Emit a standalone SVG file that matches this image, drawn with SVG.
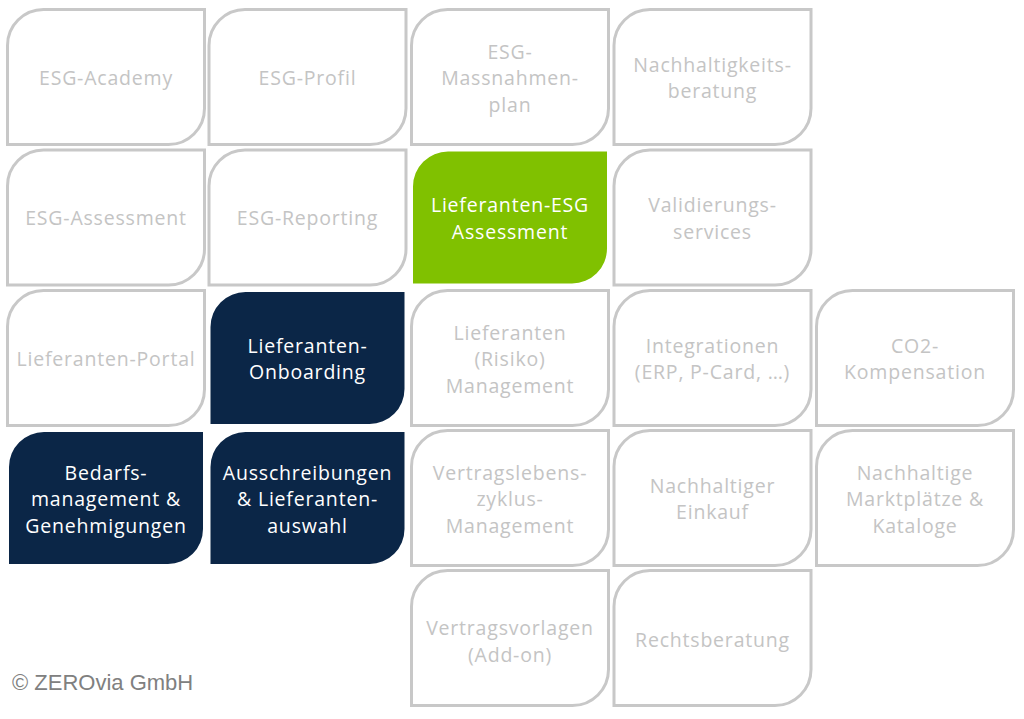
<svg xmlns="http://www.w3.org/2000/svg" xmlns:xlink="http://www.w3.org/1999/xlink" width="1024" height="719" viewBox="0 0 1024 719">
<style>
.t{fill:none;stroke:#c8c8c8;stroke-width:3}
.g{fill:#80c100}
.n{fill:#0b2647}
text{font-family:"Open Sans","DejaVu Sans",sans-serif;font-size:19.5px;letter-spacing:0.8px;text-anchor:middle}
.lt{fill:#c4c4c4}
.wt{fill:#ffffff}
.cp{font-family:"Liberation Sans",Arial,sans-serif;font-size:22px;letter-spacing:0;text-anchor:start;fill:#808080}
</style>
<defs>
<path id="tile" d="M36,0 H197 V99 A36,36 0 0 1 161,135 H0 V36 A36,36 0 0 1 36,0 Z"/>
<path id="tileF" d="M36.5,1.5 H195.5 V98.5 A35,35 0 0 1 160.5,133.5 H1.5 V36.5 A35,35 0 0 1 36.5,1.5 Z"/>
</defs>
<rect width="1024" height="719" fill="#ffffff"/>
<g id="connectors"></g>

<g id="esg-academy"><use href="#tile" class="t" x="7.5" y="9.5"/><text class="lt" x="106" y="84.5">ESG-Academy</text></g>
<g id="esg-profil"><use href="#tile" class="t" x="209" y="9.5"/><text class="lt" x="307.5" y="84.5">ESG-Profil</text></g>
<g id="esg-massnahmenplan"><use href="#tile" class="t" x="411.5" y="9.5"/><text class="lt" x="510" y="58.5">ESG-</text><text class="lt" x="510" y="85">Massnahmen-</text><text class="lt" x="510" y="111.5">plan</text></g>
<g id="nachhaltigkeitsberatung"><use href="#tile" class="t" x="614" y="9.5"/><text class="lt" x="712.5" y="71.5">Nachhaltigkeits-</text><text class="lt" x="712.5" y="98">beratung</text></g>

<g id="esg-assessment"><use href="#tile" class="t" x="7.5" y="150"/><text class="lt" x="106" y="225">ESG-Assessment</text></g>
<g id="esg-reporting"><use href="#tile" class="t" x="209" y="150"/><text class="lt" x="307.5" y="225">ESG-Reporting</text></g>
<g id="lieferanten-esg-assessment"><use href="#tileF" class="g" x="411.5" y="150"/><text class="wt" x="510" y="212">Lieferanten-ESG</text><text class="wt" x="510" y="238.5">Assessment</text></g>
<g id="validierungsservices"><use href="#tile" class="t" x="614" y="150"/><text class="lt" x="712.5" y="212">Validierungs-</text><text class="lt" x="712.5" y="238.5">services</text></g>

<g id="lieferanten-portal"><use href="#tile" class="t" x="7.5" y="290.5"/><text class="lt" x="106" y="365.5">Lieferanten-Portal</text></g>
<g id="lieferanten-onboarding"><use href="#tileF" class="n" x="209" y="290.5"/><text class="wt" x="307.5" y="352.5">Lieferanten-</text><text class="wt" x="307.5" y="379">Onboarding</text></g>
<g id="lieferanten-risiko-management"><use href="#tile" class="t" x="411.5" y="290.5"/><text class="lt" x="510" y="339.5">Lieferanten</text><text class="lt" x="510" y="366">(Risiko)</text><text class="lt" x="510" y="392.5">Management</text></g>
<g id="integrationen"><use href="#tile" class="t" x="614" y="290.5"/><text class="lt" x="712.5" y="352.5">Integrationen</text><text class="lt" x="712.5" y="379">(ERP, P-Card, …)</text></g>
<g id="co2-kompensation"><use href="#tile" class="t" x="816.5" y="290.5"/><text class="lt" x="915" y="352.5">CO2-</text><text class="lt" x="915" y="379">Kompensation</text></g>

<g id="bedarfsmanagement"><use href="#tileF" class="n" x="7.5" y="430.5"/><text class="wt" x="106" y="479.5">Bedarfs-</text><text class="wt" x="106" y="506">management &amp;</text><text class="wt" x="106" y="532.5">Genehmigungen</text></g>
<g id="ausschreibungen"><use href="#tileF" class="n" x="209" y="430.5"/><text class="wt" x="307.5" y="479.5">Ausschreibungen</text><text class="wt" x="307.5" y="506">&amp; Lieferanten-</text><text class="wt" x="307.5" y="532.5">auswahl</text></g>
<g id="vertragslebenszyklus"><use href="#tile" class="t" x="411.5" y="430.5"/><text class="lt" x="510" y="479.5">Vertragslebens-</text><text class="lt" x="510" y="506">zyklus-</text><text class="lt" x="510" y="532.5">Management</text></g>
<g id="nachhaltiger-einkauf"><use href="#tile" class="t" x="614" y="430.5"/><text class="lt" x="712.5" y="492.5">Nachhaltiger</text><text class="lt" x="712.5" y="519">Einkauf</text></g>
<g id="nachhaltige-marktplaetze"><use href="#tile" class="t" x="816.5" y="430.5"/><text class="lt" x="915" y="479.5">Nachhaltige</text><text class="lt" x="915" y="506">Marktplätze &amp;</text><text class="lt" x="915" y="532.5">Kataloge</text></g>

<g id="vertragsvorlagen"><use href="#tile" class="t" x="411.5" y="570.5"/><text class="lt" x="510" y="635">Vertragsvorlagen</text><text class="lt" x="510" y="661.5">(Add-on)</text></g>
<g id="rechtsberatung"><use href="#tile" class="t" x="614" y="570.5"/><text class="lt" x="712.5" y="647">Rechtsberatung</text></g>

<text class="cp" x="12" y="690">© ZEROvia GmbH</text>
</svg>
